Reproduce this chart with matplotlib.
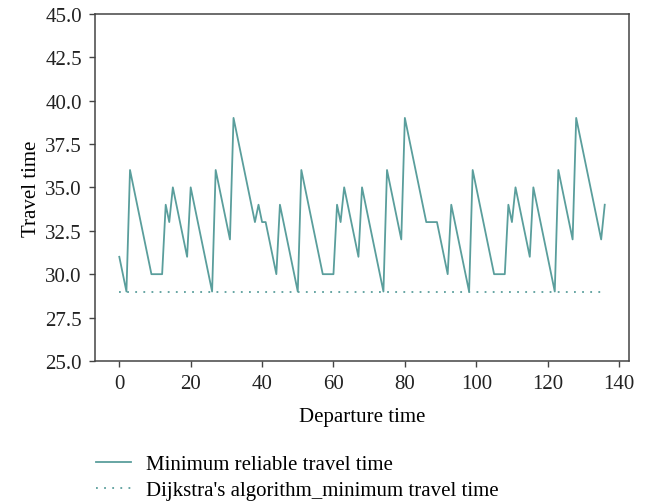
import matplotlib.pyplot as plt

# departure time vs minimum reliable travel time
departure = [0, 2, 3, 9, 12, 13, 14, 15, 19, 20, 26, 27, 31, 32, 38, 39, 40, 41, 44, 45,
             50, 51, 57, 60, 61, 62, 63, 67, 68, 74, 75, 79, 80, 86, 89, 92, 93, 98, 99,
             105, 108, 109, 110, 111, 115, 116, 122, 123, 127, 128, 135, 136]
reliable_time = [31, 29, 36, 30, 30, 34, 33, 35, 31, 35, 29, 36, 32, 39, 33, 34, 33, 33, 30, 34,
                 29, 36, 30, 30, 34, 33, 35, 31, 35, 29, 36, 32, 39, 33, 33, 30, 34, 29, 36,
                 30, 30, 34, 33, 35, 31, 35, 29, 36, 32, 39, 32, 34]
dijkstra_x = [0, 136]
dijkstra_time = [29, 29]

plt.rcParams['font.family'] = ['Liberation Serif', 'DejaVu Serif']
plt.rcParams['font.size'] = 15

fig = plt.figure(figsize=(6.46, 5.02), dpi=100)
ax = fig.add_axes([0.1471, 0.2789, 0.8266, 0.6918])

line1, = ax.plot(departure, reliable_time, color='#5a9e9c', linewidth=1.3,
                 label='Minimum reliable travel time')
line2, = ax.plot(dijkstra_x, dijkstra_time, color='#5a9e9c', linewidth=1.3,
                 linestyle=(0, (1, 3.5)), label="Dijkstra's algorithm_minimum travel time")

ax.set_ylim(25, 45)
ax.set_yticks([25, 27.5, 30, 32.5, 35, 37.5, 40, 42.5, 45])
ax.set_yticklabels(['25.0', '27.5', '30.0', '32.5', '35.0', '37.5', '40.0', '42.5', '45.0'])
ax.set_xticks(range(0, 141, 20))
ax.set_xlabel('Departure time', labelpad=10)
ax.set_ylabel('Travel time', labelpad=3)
ax.tick_params(direction='out', length=4.5, width=1, pad=5, color='#444444', labelcolor='#222222')
for s in ax.spines.values():
    s.set_color('#444444')
    s.set_linewidth(1.1)

fig.legend(handles=[line1, line2], loc='upper left', bbox_to_anchor=(0.135, 0.109),
           frameon=False, handlelength=1.7, handletextpad=0.7, labelspacing=0.3,
           borderaxespad=0, fontsize=15)

plt.savefig('out.png', dpi=100)
